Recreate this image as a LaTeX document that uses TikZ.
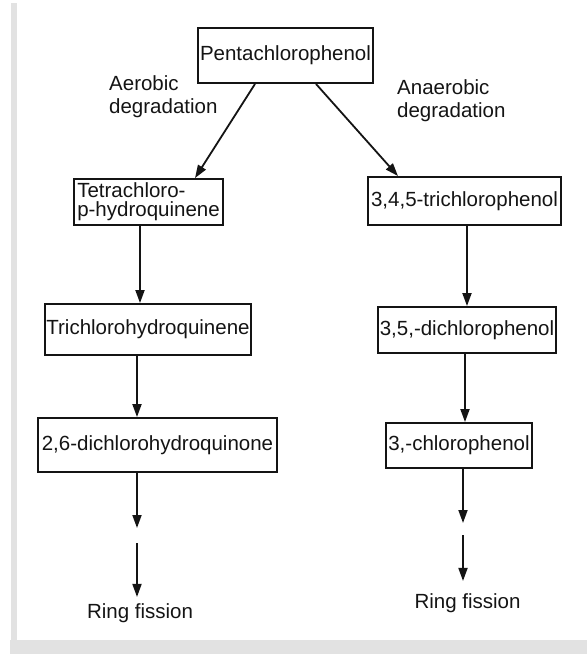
\documentclass[tikz,border=0pt]{standalone}
\usepackage{fontspec}
\setmainfont{Liberation Sans}
\usetikzlibrary{arrows.meta}

\definecolor{framegray}{RGB}{226,226,226}
\definecolor{ink}{RGB}{20,20,20}

\tikzset{
  chem/.style={draw=ink, line width=1.9pt, inner sep=0pt, text=ink,
               font=\fontsize{20.5}{19}\selectfont},
  lbl/.style={inner sep=0pt, text=ink, align=left,
              font=\fontsize{20.5}{22.5}\selectfont},
  flow/.style={draw=ink, line width=1.8pt,
               -{Triangle[length=13pt,width=9pt]}}
}

\begin{document}
\begin{tikzpicture}[x=1pt,y=-1pt]
  \useasboundingbox (0,0) rectangle (587,654);

  % page frame: thin grey strip on the left and a band along the bottom
  \fill[framegray] (11,3) rectangle (17,640);
  \fill[framegray] (10,640) rectangle (587,654);

  % compounds
  \node[chem, minimum width=175pt, minimum height=55pt] (pcp) at (285.5,55.5) {Pentachlorophenol};

  \node[chem, minimum width=149pt, minimum height=46pt, align=left] (tchq) at (148.5,202) {Tetrachloro-\\p-hydroquinene};
  \node[chem, minimum width=206pt, minimum height=51pt] (trhq) at (148,329.5) {Trichlorohydroquinene};
  \node[chem, minimum width=239pt, minimum height=54pt] (dchq) at (157.5,445) {2,6-dichlorohydroquinone};

  \node[chem, minimum width=193pt, minimum height=48pt] (tcp) at (464.5,201) {3,4,5-trichlorophenol};
  \node[chem, minimum width=178pt, minimum height=46pt] (dcp) at (467,330) {3,5,-dichlorophenol};
  \node[chem, minimum width=146pt, minimum height=45pt] (mcp) at (459,445.5) {3,-chlorophenol};

  % pathway labels
  \node[lbl, anchor=base west] (aer) at (109,113) {Aerobic\\degradation};
  \node[lbl, anchor=base west] (anaer) at (397,117) {Anaerobic\\degradation};

  \node[lbl, anchor=base] (ringL) at (140,618) {Ring fission};
  \node[lbl, anchor=base] (ringR) at (467.5,608) {Ring fission};

  % loose ends of the broken arrows
  \coordinate (gapL1) at (137,528);
  \coordinate (gapL2) at (137,543);
  \coordinate (gapR1) at (463,523);
  \coordinate (gapR2) at (463,535);

  % connectors
  \draw[flow] ([xshift=-30.5pt]pcp.south) -- ([xshift=46.5pt]tchq.north);
  \draw[flow] ([xshift=30.5pt]pcp.south) -- ([xshift=-66.5pt]tcp.north);

  \draw[flow] ([xshift=-8.5pt]tchq.south) -- ([xshift=-8pt]trhq.north);
  \draw[flow] ([xshift=-11pt]trhq.south) -- ([xshift=-20.5pt]dchq.north);
  \draw[flow] ([xshift=-20.5pt]dchq.south) -- (gapL1);
  \draw[flow, shorten >=6pt] (gapL2) -- (gapL2 |- ringL.north);

  \draw[flow] ([xshift=2.5pt]tcp.south) -- (dcp.north);
  \draw[flow] ([xshift=-2pt]dcp.south) -- ([xshift=6pt]mcp.north);
  \draw[flow] ([xshift=4pt]mcp.south) -- (gapR1);
  \draw[flow, shorten >=12pt] (gapR2) -- (gapR2 |- ringR.north);
\end{tikzpicture}
\end{document}
